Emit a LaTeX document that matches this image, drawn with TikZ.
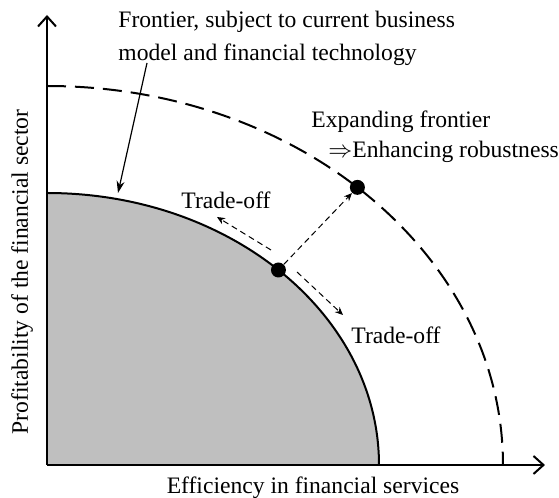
\documentclass[tikz,border=0pt]{standalone}
\usepackage{fontspec}
\setmainfont{Liberation Serif}
\usetikzlibrary{arrows.meta, calc}
\tikzset{
  axisline/.style={line width=1pt, -{Straight Barb[length=5pt,width=9pt,line width=1pt]}},
  shiftarrow/.style={line width=0.5pt, dash pattern=on 3pt off 2pt, -{Stealth[length=4pt,width=3.5pt]}},
  pointdot/.style={circle, fill=black, inner sep=0pt, minimum size=7.5pt},
  lbl/.style={inner sep=0pt, font=\fontsize{11.8}{14}\selectfont}
}
\begin{document}
\begin{tikzpicture}[x=0.5pt, y=0.5pt]
    		\useasboundingbox (-47,-33) rectangle (512,465);
    		
    		% frontiers
    		\fill[black!25] (0,0) -- (0,272) arc[start angle=90, end angle=0, x radius=332, y radius=272] -- cycle;
    		\draw[line width=1pt] (0,272) arc[start angle=90, end angle=0, x radius=332, y radius=272];
    		\draw[line width=1pt, dash pattern=on 9.5pt off 4.5pt] (0,379) arc[start angle=90, end angle=0, x radius=456, y radius=379];
    		
    		\coordinate (O) at (0,0);
    		\coordinate (yTip) at (0,450);
    		\coordinate (xTip) at (498,0);
    		\draw[axisline] (O) -- (yTip);
    		\draw[axisline] (O) -- (xTip);
    		
    		\node[pointdot] (pIn) at (45.8:332 and 272) {};
    		\node[pointdot] (pOut) at (47.1:456 and 379) {};
    		
    		\draw(-25,193) node[lbl, rotate=90] (yLabel) {Profitability of the financial sector};
    		\draw(266,-23) node[lbl] (xLabel) {Efficiency in financial services};
    		\draw(71,426.5) node[lbl, anchor=west, align=left, font=\fontsize{11.8}{16.5}\selectfont] (fLabel) {Frontier, subject to current business\\model and financial technology};
    		\draw(264,343) node[lbl, anchor=west] (eLabel) {Expanding frontier};
    		\draw(281,313) node[lbl, anchor=west] (rLabel) {$\Rightarrow$Enhancing robustness};
    		\draw(179,265) node[lbl] (tUp) {Trade-off};
    		\draw(349,130) node[lbl] (tDown) {Trade-off};
    		
    		\coordinate (fStart) at (100,402);
    		\coordinate (fEnd) at (71,272);
    		\coordinate (tUpA) at (224,215);
    		\coordinate (tUpB) at (170,248);
    		\coordinate (tDnA) at (250,193);
    		\coordinate (tDnB) at (296,150);
    		
    		\draw[line width=0.6pt, -{Stealth[length=6pt,width=4pt]}] (fStart) -- (fEnd);
    		\draw[shiftarrow] (pIn) -- (pOut);
    		\draw[shiftarrow] (tUpA) -- (tUpB);
    		\draw[shiftarrow] (tDnA) -- (tDnB);
    	\end{tikzpicture}
\end{document}
